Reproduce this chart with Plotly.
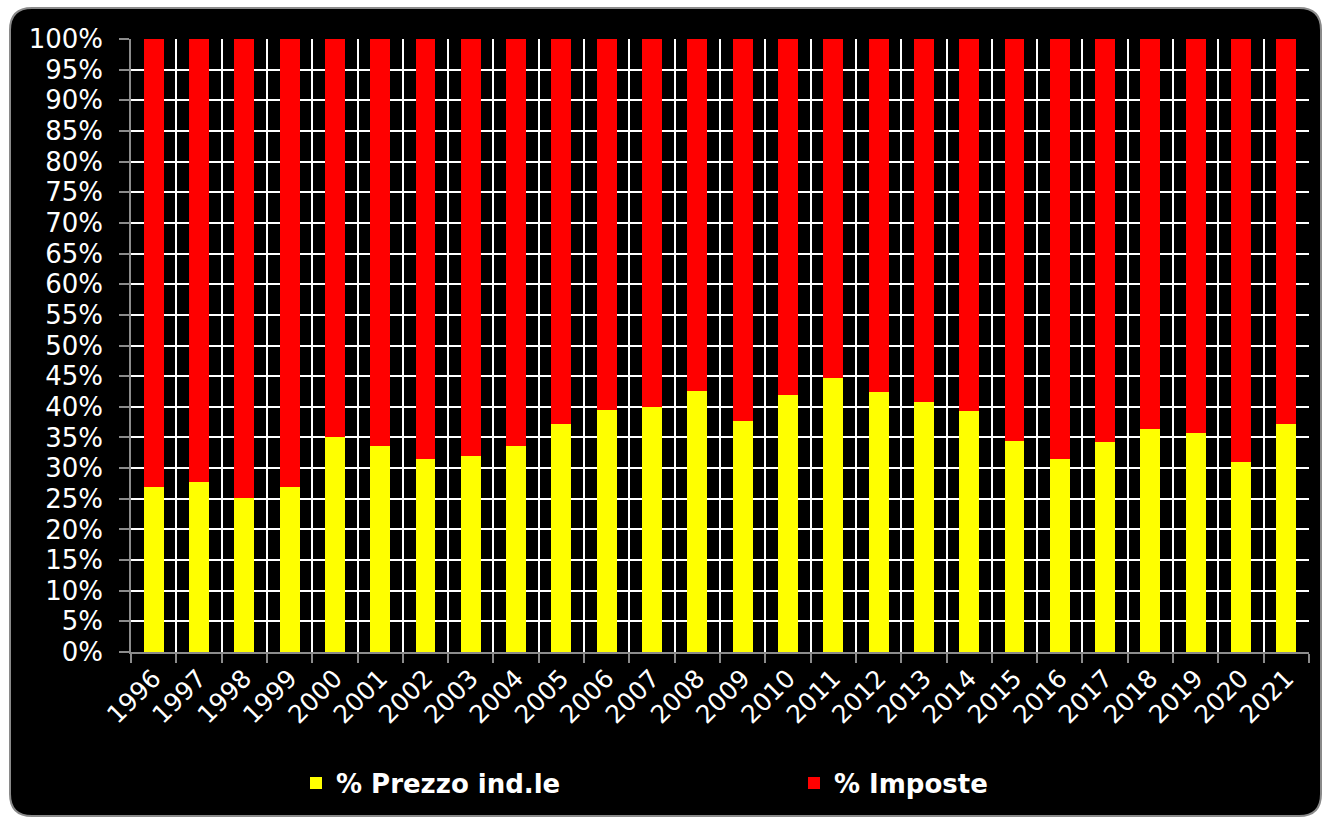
import plotly.graph_objects as go

years = ["1996", "1997", "1998", "1999", "2000", "2001", "2002", "2003", "2004",
         "2005", "2006", "2007", "2008", "2009", "2010", "2011", "2012", "2013",
         "2014", "2015", "2016", "2017", "2018", "2019", "2020", "2021"]
prezzo_ind = [26.9, 27.7, 25.2, 26.9, 35.1, 33.6, 31.5, 32.0, 33.6,
              37.2, 39.5, 40.0, 42.6, 37.7, 41.9, 44.7, 42.4, 40.8,
              39.3, 34.4, 31.5, 34.3, 36.4, 35.7, 31.0, 37.2]
imposte = [73.1, 72.3, 74.8, 73.1, 64.9, 66.4, 68.5, 68.0, 66.4,
           62.8, 60.5, 60.0, 57.4, 62.3, 58.1, 55.3, 57.6, 59.2,
           60.7, 65.6, 68.5, 65.7, 63.6, 64.3, 69.0, 62.8]
series_names = ["% Prezzo ind.le", "% Imposte"]
series_colors = ["#FFFF00", "#FF0000"]
ytick_vals = list(range(0, 101, 5))
ytick_text = [f"{v}%" for v in ytick_vals]

W, H = 1325, 818
L, R, T, B = 131, 16, 39, 166
pw, ph = W - L - R, H - T - B

def px(x):
    return (x - L) / pw

def py(y):
    return (H - B - y) / ph

def rounded_rect(x0, y0, x1, y1, r):
    return (f"M {px(x0 + r)},{py(y0)} L {px(x1 - r)},{py(y0)} "
            f"Q {px(x1)},{py(y0)} {px(x1)},{py(y0 + r)} "
            f"L {px(x1)},{py(y1 - r)} Q {px(x1)},{py(y1)} {px(x1 - r)},{py(y1)} "
            f"L {px(x0 + r)},{py(y1)} Q {px(x0)},{py(y1)} {px(x0)},{py(y1 - r)} "
            f"L {px(x0)},{py(y0 + r)} Q {px(x0)},{py(y0)} {px(x0 + r)},{py(y0)} Z")

fig = go.Figure()
fig.add_trace(go.Bar(x=years, y=prezzo_ind, name=series_names[0],
                     marker=dict(color=series_colors[0], line=dict(width=0))))
fig.add_trace(go.Bar(x=years, y=imposte, name=series_names[1],
                     marker=dict(color=series_colors[1], line=dict(width=0))))

fig.update_layout(
    width=W, height=H,
    margin=dict(l=L, r=R, t=T, b=B, autoexpand=False),
    barmode="stack", bargap=0.56,
    paper_bgcolor="white", plot_bgcolor="black",
    font=dict(family="DejaVu Sans", color="white", size=25),
    showlegend=True,
    legend=dict(orientation="h", x=px(296), xanchor="left", y=py(783), yanchor="middle",
                bgcolor="rgba(0,0,0,0)", font=dict(family="DejaVu Sans", size=26, color="white", weight="bold"),
                entrywidth=453, entrywidthmode="pixels", itemsizing="constant", traceorder="normal"),
    shapes=[dict(type="path", xref="paper", yref="paper", layer="below",
                 path=rounded_rect(10, 8, 1321, 816, 22),
                 fillcolor="black", line=dict(color="#8a8a8a", width=2)),
            dict(type="line", xref="paper", yref="paper", layer="above",
                 x0=1.0015, x1=1.0015, y0=0.003, y1=1.002,
                 line=dict(color="black", width=3))],
)

fig.update_xaxes(type="category", tickson="boundaries", tickangle=-45,
                 showgrid=True, gridcolor="white", gridwidth=1.5,
                 showline=True, linecolor="#8c8c8c", linewidth=1.5,
                 ticks="outside", ticklen=9, tickcolor="#8c8c8c", tickwidth=1.5,
                 tickfont=dict(size=25, color="white"))
fig.update_yaxes(range=[0, 100], tickmode="array", tickvals=ytick_vals, ticktext=ytick_text,
                 showgrid=False,
                 minor=dict(tickmode="array", tickvals=ytick_vals[1:-1], showgrid=True,
                            gridcolor="white", gridwidth=2, ticks=""),
                 showline=True, linecolor="#8c8c8c", linewidth=1.5,
                 ticks="outside", ticklen=10, tickcolor="#8c8c8c", tickwidth=1.5,
                 ticklabelstandoff=11,
                 tickfont=dict(size=26, color="white"), zeroline=False)

fig.write_html("out.html", config={"displayModeBar": False},
               post_script="document.body.style.margin='0';")
